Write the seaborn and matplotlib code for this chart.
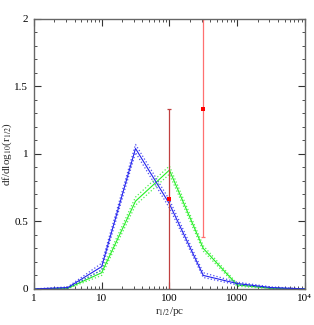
import numpy as np
import pandas as pd
import matplotlib
matplotlib.use("Agg")
import matplotlib.pyplot as plt
import seaborn as sns
from matplotlib.ticker import MultipleLocator, FixedLocator, FixedFormatter, LogLocator, NullFormatter

# half-decade bins in r_1/2 (pc)
r_bins = [1, 3.162, 10, 31.62, 100, 316.2, 1000, 3162, 10000]

blue_mid = [0.0, 0.01, 0.165, 1.04, 0.63, 0.10, 0.04, 0.01, 0.0]
blue_hi = [0.0, 0.015, 0.19, 1.07, 0.66, 0.12, 0.05, 0.015, 0.0]
blue_lo = [0.0, 0.005, 0.14, 1.01, 0.60, 0.085, 0.03, 0.005, 0.0]

green_mid = [0.0, 0.005, 0.12, 0.65, 0.88, 0.30, 0.03, 0.005, 0.0]
green_hi = [0.0, 0.008, 0.14, 0.68, 0.91, 0.32, 0.04, 0.008, 0.0]
green_lo = [0.0, 0.002, 0.10, 0.62, 0.85, 0.28, 0.02, 0.002, 0.0]

obs_r = [100, 316.2]
obs_y = [0.667, 1.333]
obs_lo = [0.0, 0.385]
obs_hi = [1.333, 2.0]
obs_colors = ["#c04040", "#ff7070"]

x_ticks = [1, 10, 100, 1000, 10000]
x_ticklabels = ["1", "10", "100", "1000", "10\u2074"]
y_ticks = [0, 0.5, 1, 1.5, 2]
y_ticklabels = ["0", "0.5", "1", "1.5", "2"]

sns.set_style("ticks")
plt.rcParams['font.family'] = ['Liberation Serif', 'DejaVu Serif']
plt.rcParams['mathtext.fontset'] = 'stix'

fig = plt.figure(figsize=(3.14, 3.25), dpi=100)
ax = fig.add_axes([0.108, 0.111, 0.863, 0.831])

df = pd.DataFrame({"r": r_bins,
                   "blue_mid": blue_mid, "blue_hi": blue_hi, "blue_lo": blue_lo,
                   "green_mid": green_mid, "green_hi": green_hi, "green_lo": green_lo})

for col, c in [("green", "#22ee22"), ("blue", "#2222ee")]:
    sns.lineplot(data=df, x="r", y=col + "_hi", ax=ax, color=c, lw=0.9, linestyle=":", alpha=0.8)
    sns.lineplot(data=df, x="r", y=col + "_lo", ax=ax, color=c, lw=0.9, linestyle=":", alpha=0.8)
    sns.lineplot(data=df, x="r", y=col + "_mid", ax=ax, color=c, lw=0.8)

for r, y, lo, hi, c in zip(obs_r, obs_y, obs_lo, obs_hi, obs_colors):
    ax.errorbar([r], [y], yerr=[[y - lo], [hi - y]], fmt="none", ecolor=c, elinewidth=0.9,
                capsize=1.5, capthick=0.9)
ax.scatter(obs_r, obs_y, color="red", s=5, marker="s", zorder=5, linewidths=0)

ax.set_xscale("log")
ax.set_xlim(1, 1e4)
ax.set_ylim(0, 2)
ax.xaxis.set_major_locator(FixedLocator(x_ticks))
ax.xaxis.set_major_formatter(FixedFormatter(x_ticklabels))
ax.xaxis.set_minor_locator(LogLocator(base=10, subs=np.arange(2, 10)))
ax.xaxis.set_minor_formatter(NullFormatter())
ax.yaxis.set_major_locator(FixedLocator(y_ticks))
ax.yaxis.set_major_formatter(FixedFormatter(y_ticklabels))
ax.yaxis.set_minor_locator(MultipleLocator(0.1))

ax.tick_params(which="both", direction="in", top=True, right=True, colors="#333333",
               labelsize=8, labelcolor="black", pad=4)
ax.tick_params(which="major", length=5, width=0.8)
ax.tick_params(which="minor", length=2.5, width=0.6)
for s in ax.spines.values():
    s.set_color("#666666")
    s.set_linewidth(1.0)

ax.set_xlabel(r"r$_{1/2}$/pc", fontsize=8, labelpad=1)
ax.set_ylabel(r"df/dlog$_{10}$(r$_{1/2}$)", fontsize=8)
ax.yaxis.set_label_coords(-0.072, 0.5)

fig.savefig("out.png", dpi=100)
